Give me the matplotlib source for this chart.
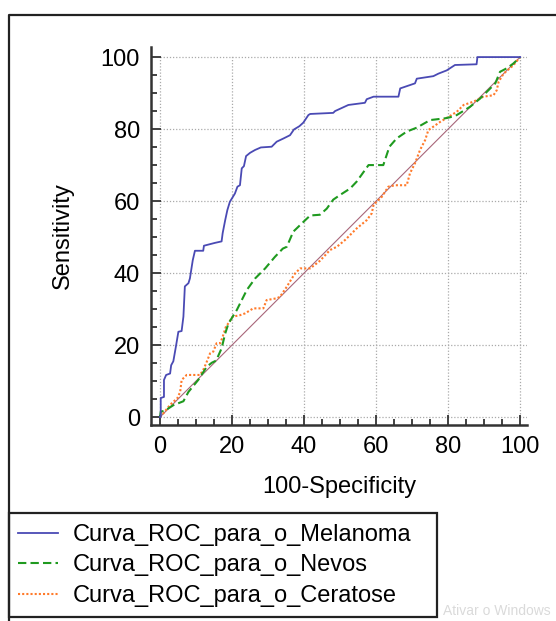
import numpy as np
import matplotlib
matplotlib.use("Agg")
from matplotlib import pyplot as plt
from matplotlib.lines import Line2D
from matplotlib.patches import Rectangle

plt.rcParams['font.family'] = ['Liberation Sans', 'DejaVu Sans']

#############################################################
# Data
#############################################################
labels = ["Curva_ROC_para_o_Melanoma", "Curva_ROC_para_o_Nevos", "Curva_ROC_para_o_Ceratose"]

melX = [0, 0.2, 0.2, 1.1, 1.1, 1.7, 2.8, 3.1, 3.7, 4.4, 5.1, 6.0, 6.5, 6.9, 7.9, 8.3, 9.1, 9.7,
        12.0, 12.2, 15.3, 17.1, 17.4, 18.1, 18.7, 19.4, 20.8, 21.5, 22.2, 22.7, 23.3, 23.9, 25.0,
        26.4, 28.0, 31.0, 32.4, 34.3, 36.1, 37.2, 38.7, 39.8, 41.2, 41.7, 48.1, 48.6, 52.3, 56.9,
        57.4, 59.3, 66.2, 66.7, 70.8, 71.3, 75.9, 77.3, 79.6, 81.9, 87.9, 88.1, 88.1, 100]
melY = [0, 0, 5.3, 5.6, 10.3, 11.7, 12.1, 14.4, 15.5, 19.5, 23.7, 23.9, 27.9, 36.3, 37.2, 38.5, 43.6, 46.2,
        46.2, 47.6, 48.4, 48.8, 51.1, 54.7, 57.5, 59.8, 62.1, 64.0, 64.4, 69.1, 69.7, 72.5, 73.4,
        74.2, 74.9, 75.1, 76.5, 77.4, 78.3, 79.9, 80.8, 81.8, 83.9, 84.2, 84.5, 85.0, 86.7, 87.3,
        88.3, 89.0, 89.0, 91.3, 92.7, 94.0, 94.7, 95.4, 96.3, 97.8, 98.0, 99.7, 100, 100]

nevX = [0, 0.2, 1.4, 3.7, 6.5, 7.9, 10.6, 13.0, 14.4, 15.6, 17.1, 18.1, 19.0, 21.3, 24.1, 26.4, 29.2,
        31.9, 34.1, 35.2, 37.0, 39.8, 41.7, 44.4, 46.3, 48.1, 50.0, 52.8, 54.6, 57.9, 62.0, 63.7,
        65.7, 68.5, 71.3, 75.0, 79.2, 80.6, 82.4, 86.1, 88.9, 91.7, 93.1, 94.4, 96.3, 98.1, 100]
nevY = [0, 1.5, 1.8, 3.3, 4.4, 7.0, 10.3, 14.0, 15.1, 15.7, 19.1, 23.2, 26.0, 29.7, 35.3, 38.5, 41.3,
        44.5, 46.8, 47.3, 51.5, 54.2, 56.0, 56.2, 57.9, 60.4, 61.7, 63.5, 65.4, 70.0, 70.0, 75.1,
        77.4, 79.3, 80.4, 82.5, 83.0, 83.3, 83.9, 86.2, 88.5, 91.3, 92.7, 95.9, 96.9, 98.2, 100]

cerX = [0, 0.9, 2.8, 4.2, 4.8, 5.6, 6.0, 7.4, 11.1, 12.0, 12.8, 13.9, 14.8, 15.7, 16.7, 17.4, 18.3,
        19.3, 20.2, 22.2, 23.6, 25.9, 28.7, 29.6, 32.4, 33.3, 35.2, 36.6, 37.5, 38.9, 41.7, 44.4,
        47.2, 49.1, 51.4, 52.8, 54.6, 57.4, 58.8, 59.3, 60.2, 61.6, 63.4, 65.3, 68.5, 69.4, 70.8,
        72.2, 73.6, 74.5, 77.8, 82.4, 84.3, 87.0, 89.8, 92.6, 93.5, 94.0, 95.4, 98.1, 100]
cerY = [0, 1.0, 3.4, 4.7, 5.2, 7.0, 10.3, 11.7, 11.7, 13.1, 14.9, 17.7, 18.2, 20.5, 20.5, 22.3, 25.1,
        26.5, 27.9, 28.3, 28.8, 30.2, 30.2, 32.5, 33.0, 33.4, 36.2, 38.5, 39.9, 41.3, 41.3, 43.4,
        46.4, 47.3, 49.2, 50.6, 52.4, 54.7, 56.6, 59.0, 59.8, 61.2, 64.0, 64.4, 64.4, 67.7, 70.5,
        74.2, 76.9, 79.7, 82.0, 84.8, 86.7, 87.6, 89.0, 89.4, 90.8, 93.1, 95.4, 97.7, 100]

refLine = [0, 100]
ticks = [0, 20, 40, 60, 80, 100]

#############################################################
# Plot
#############################################################
W, H = 556, 621
fig = plt.figure(figsize=(W / 100, H / 100), dpi=100)
ax = fig.add_axes([151 / W, 1 - 425 / H, (527 - 151) / W, (425 - 47) / H])

FS = 17
DARK = '#333333'

# grid, only over the data range like the original
for t in ticks:
    ax.hlines(t, 0, 101.9, colors='#aaaaaa', linestyles=(0, (1, 1.5)), linewidth=0.9, zorder=0)
    ax.vlines(t, 0, 100.5, colors='#aaaaaa', linestyles=(0, (1, 1.5)), linewidth=0.9, zorder=0)

ax.plot(refLine, refLine, color='#a8667a', linewidth=0.8, zorder=1)
l1, = ax.plot(melX, melY, color='#4a4ab4', linewidth=1.3, zorder=4)
l2, = ax.plot(nevX, nevY, color='#1f9a1f', linewidth=1.5, dashes=(4, 2), zorder=3)
l3, = ax.plot(cerX, cerY, color='#ff7a2a', linewidth=1.5, dashes=(1, 1), zorder=2)

ax.set_xlim(-2.5, 101.9)
ax.set_ylim(-2.2, 102.8)
ax.set_xticks(ticks)
ax.set_yticks(ticks)
ax.set_xticks(np.arange(0, 101, 5), minor=True)
ax.set_yticks(np.arange(0, 101, 5), minor=True)
ax.tick_params(which='both', direction='in', color=DARK, width=1.3, labelsize=FS, labelcolor='black')
ax.tick_params(which='major', length=7, pad=8)
ax.tick_params(which='minor', length=4)
for s in ['top', 'right']:
    ax.spines[s].set_visible(False)
for s in ['left', 'bottom']:
    ax.spines[s].set_linewidth(1.8)
    ax.spines[s].set_color(DARK)

ax.set_xlabel("100-Specificity", fontsize=FS, labelpad=13)
ax.set_ylabel("Sensitivity", fontsize=FS, labelpad=19)

# outer frame
fig.add_artist(Line2D([9 / W, 9 / W, 1.0], [0.0, 1 - 15 / H, 1 - 15 / H],
                      transform=fig.transFigure, color='#222222', linewidth=1.6))

# legend box
fig.add_artist(Rectangle((9 / W, 1 - 617 / H), 428 / W, 104 / H, transform=fig.transFigure,
                         fill=False, edgecolor='#222222', linewidth=1.6))
fig.legend([l1, l2, l3], labels, loc='upper left', bbox_to_anchor=(18 / W, 1 - 524 / H),
           frameon=False, fontsize=FS, handlelength=1.7, handletextpad=0.6,
           labelspacing=0.36, borderpad=0, borderaxespad=0)

fig.text(443 / W, 3 / H, "Ativar o Windows", fontsize=10, color='#dadada', va='bottom')

fig.savefig("out.png", dpi=100)
